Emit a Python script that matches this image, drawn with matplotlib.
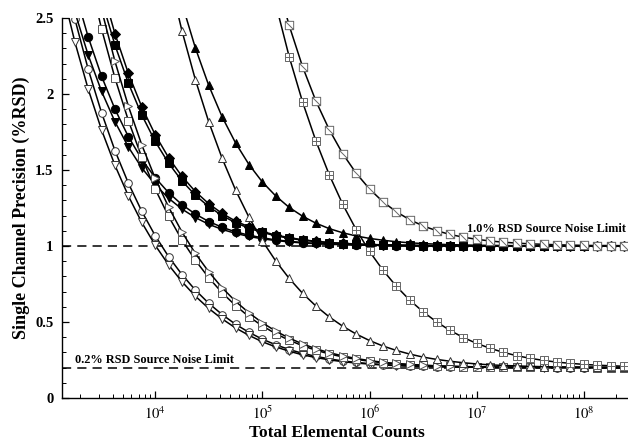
import matplotlib
matplotlib.use("Agg")
import matplotlib.pyplot as plt
from matplotlib.path import Path
from matplotlib.ticker import MultipleLocator, LogLocator, NullFormatter

# ---------------- data ----------------
COUNTS = [1.334e3, 1.778e3, 2.371e3, 3.162e3, 4.217e3, 5.623e3, 7.499e3,
          1.0e4, 1.334e4, 1.778e4, 2.371e4, 3.162e4, 4.217e4, 5.623e4, 7.499e4,
          1.0e5, 1.334e5, 1.778e5, 2.371e5, 3.162e5, 4.217e5, 5.623e5, 7.499e5,
          1.0e6, 1.334e6, 1.778e6, 2.371e6, 3.162e6, 4.217e6, 5.623e6, 7.499e6,
          1.0e7, 1.334e7, 1.778e7, 2.371e7, 3.162e7, 4.217e7, 5.623e7, 7.499e7,
          1.0e8, 1.334e8, 1.778e8, 2.371e8, 3.162e8]

open_circle = [2.879, 2.495, 2.163, 1.876, 1.627, 1.413, 1.228, 1.068, 0.930, 0.812,
               0.710, 0.623, 0.549, 0.485, 0.432, 0.387, 0.350, 0.319, 0.294, 0.274,
               0.257, 0.244, 0.234, 0.226, 0.220, 0.215, 0.211, 0.209, 0.206, 0.205,
               0.204, 0.203, 0.202, 0.202, 0.201, 0.201, 0.201, 0.200, 0.200, 0.200,
               0.200, 0.200, 0.200, 0.200]
open_tri_down = [2.704, 2.344, 2.032, 1.763, 1.530, 1.329, 1.155, 1.005, 0.876, 0.765,
                 0.670, 0.589, 0.520, 0.461, 0.412, 0.370, 0.336, 0.308, 0.284, 0.266,
                 0.251, 0.239, 0.230, 0.223, 0.217, 0.213, 0.210, 0.208, 0.206, 0.204,
                 0.203, 0.202, 0.202, 0.201, 0.201, 0.201, 0.200, 0.200, 0.200, 0.200,
                 0.200, 0.200, 0.200, 0.200]
filled_circle = [3.041, 2.681, 2.375, 2.116, 1.900, 1.719, 1.571, 1.449, 1.351, 1.272,
                 1.210, 1.161, 1.123, 1.093, 1.071, 1.054, 1.040, 1.031, 1.023, 1.017,
                 1.013, 1.010, 1.007, 1.006, 1.004, 1.003, 1.002, 1.002, 1.001, 1.001,
                 1.001, 1.000, 1.000, 1.000, 1.000, 1.000, 1.000, 1.000, 1.000, 1.000,
                 1.000, 1.000, 1.000, 1.000]
filled_tri_down = [2.876, 2.541, 2.256, 2.017, 1.817, 1.651, 1.514, 1.404, 1.314, 1.243,
                   1.187, 1.143, 1.109, 1.083, 1.063, 1.047, 1.036, 1.027, 1.020, 1.015,
                   1.011, 1.009, 1.006, 1.005, 1.004, 1.003, 1.002, 1.002, 1.001, 1.001,
                   1.001, 1.000, 1.000, 1.000, 1.000, 1.000, 1.000, 1.000, 1.000, 1.000,
                   1.000, 1.000, 1.000, 1.000]
open_square = [3.232, 2.800, 2.427, 2.104, 1.825, 1.583, 1.375, 1.195, 1.039, 0.906,
               0.791, 0.692, 0.608, 0.535, 0.474, 0.423, 0.380, 0.344, 0.314, 0.290,
               0.270, 0.254, 0.242, 0.232, 0.225, 0.219, 0.214, 0.211, 0.208, 0.206,
               0.205, 0.203, 0.203, 0.202, 0.202, 0.201, 0.201, 0.201, 0.201, 0.200,
               0.200, 0.200, 0.200]
open_tri_right = [3.401, 2.947, 2.554, 2.214, 1.920, 1.665, 1.446, 1.256, 1.092, 0.951,
                  0.830, 0.725, 0.636, 0.560, 0.495, 0.440, 0.394, 0.356, 0.324, 0.298,
                  0.277, 0.260, 0.246, 0.235, 0.227, 0.221, 0.216, 0.212, 0.209, 0.207,
                  0.205, 0.204, 0.203, 0.202, 0.202, 0.201, 0.201, 0.201, 0.201, 0.200,
                  0.200, 0.200, 0.200]
filled_square = [3.377, 2.967, 2.617, 2.321, 2.071, 1.862, 1.688, 1.545, 1.428, 1.334,
                 1.259, 1.200, 1.153, 1.117, 1.089, 1.067, 1.051, 1.038, 1.029, 1.022,
                 1.016, 1.012, 1.009, 1.007, 1.005, 1.004, 1.003, 1.002, 1.002, 1.001,
                 1.001, 1.001, 1.001, 1.000, 1.000, 1.000, 1.000, 1.000, 1.000, 1.000,
                 1.000, 1.000, 1.000]
filled_diamond = [3.500, 3.072, 2.706, 2.396, 2.135, 1.915, 1.732, 1.581, 1.458, 1.358,
                  1.278, 1.214, 1.164, 1.126, 1.095, 1.072, 1.055, 1.041, 1.031, 1.023,
                  1.018, 1.013, 1.010, 1.008, 1.006, 1.004, 1.003, 1.002, 1.002, 1.001,
                  1.001, 1.001, 1.001, 1.000, 1.000, 1.000, 1.000, 1.000, 1.000, 1.000,
                  1.000, 1.000, 1.000]
open_tri_up = [2.786, 2.415, 2.094, 1.816, 1.576, 1.368, 1.189, 1.034, 0.901, 0.787,
               0.689, 0.605, 0.533, 0.472, 0.421, 0.378, 0.342, 0.313, 0.289, 0.269,
               0.254, 0.242, 0.232, 0.224, 0.218, 0.214, 0.211, 0.208, 0.206, 0.205,
               0.203, 0.203, 0.202, 0.201, 0.201, 0.201]
filled_tri_up = [2.941, 2.595, 2.303, 2.056, 1.849, 1.678, 1.536, 1.421, 1.329, 1.254,
                 1.196, 1.150, 1.114, 1.087, 1.066, 1.050, 1.038, 1.028, 1.021, 1.016,
                 1.012, 1.009, 1.007, 1.005, 1.004, 1.003, 1.002, 1.002, 1.001, 1.001,
                 1.001, 1.001, 1.000, 1.000, 1.000, 1.000]
square_plus = [2.591, 2.246, 1.948, 1.690, 1.467, 1.274, 1.108, 0.964, 0.841, 0.735,
               0.644, 0.567, 0.501, 0.445, 0.398, 0.359, 0.327, 0.300, 0.278, 0.261,
               0.247, 0.236, 0.228, 0.221, 0.216, 0.212, 0.209, 0.207]
square_slash = [2.770, 2.451, 2.180, 1.953, 1.764, 1.607, 1.479, 1.375, 1.291, 1.225,
                1.173, 1.132, 1.101, 1.076, 1.058, 1.044, 1.033, 1.025, 1.019, 1.014,
                1.011, 1.008, 1.006, 1.004, 1.003, 1.003, 1.002, 1.001]

NOISE_LIMITS = [1.0, 0.2]
NOISE_LABELS = ["1.0% RSD Source Noise Limit", "0.2% RSD Source Noise Limit"]
X_TICKS = [1e4, 1e5, 1e6, 1e7, 1e8]
X_TICK_LABELS = [r"$10^{4}$", r"$10^{5}$", r"$10^{6}$", r"$10^{7}$", r"$10^{8}$"]

# ---------------- styling ----------------
plt.rcParams["font.family"] = ["Liberation Serif", "DejaVu Serif"]
plt.rcParams["mathtext.fontset"] = "stix"

sq_plus = Path([(-1, -1), (1, -1), (1, 1), (-1, 1), (-1, -1),
                (0, -1), (0, 1), (-1, 0), (1, 0)],
               [Path.MOVETO, Path.LINETO, Path.LINETO, Path.LINETO, Path.CLOSEPOLY,
                Path.MOVETO, Path.LINETO, Path.MOVETO, Path.LINETO])
sq_slash = Path([(-1, -1), (1, -1), (1, 1), (-1, 1), (-1, -1),
                 (-1, 1), (1, -1)],
                [Path.MOVETO, Path.LINETO, Path.LINETO, Path.LINETO, Path.CLOSEPOLY,
                 Path.MOVETO, Path.LINETO])

series = [
    (open_circle, "o", "white", "#333333", 5.5),
    (open_tri_down, "v", "white", "#333333", 5.5),
    (filled_circle, "o", "black", "black", 6.0),
    (filled_tri_down, "v", "black", "black", 6.0),
    (open_square, "s", "white", "#555555", 5.5),
    (open_tri_right, ">", "white", "#555555", 5.5),
    (filled_square, "s", "black", "black", 5.8),
    (filled_diamond, "D", "black", "black", 4.8),
    (open_tri_up, "^", "white", "#333333", 6.0),
    (filled_tri_up, "^", "black", "black", 5.5),
    (square_plus, sq_plus, "white", "#666666", 6.0),
    (square_slash, sq_slash, "white", "#666666", 6.0),
]

fig = plt.figure(figsize=(6.28, 4.41), dpi=100)
ax = fig.add_axes([0.0987, 0.0975, 0.9013, 0.8617])

for lim in NOISE_LIMITS:
    ax.axhline(lim, color="black", lw=1.1, ls=(0, (6, 4)), zorder=1)

for y, mk, fc, ec, ms in series:
    x = COUNTS[-len(y):]
    ax.plot(x, y, color="black", lw=1.1, marker=mk, markersize=ms,
            markerfacecolor=fc, markeredgecolor=ec, markeredgewidth=0.7,
            zorder=2)

ax.text(2.45e8, 1.115, NOISE_LABELS[0], ha="right", va="center",
        fontsize=8.8, fontweight="bold", zorder=5)
ax.text(1.78e3, 0.25, NOISE_LABELS[1], ha="left", va="center",
        fontsize=8.8, fontweight="bold", zorder=5)

ax.set_xscale("log")
ax.set_xlim(1.35e3, 2.58e8)
ax.set_ylim(0, 2.5)

ax.set_xticks(X_TICKS)
ax.set_xticklabels(X_TICK_LABELS, fontsize=10.5)
ax.xaxis.set_minor_locator(LogLocator(base=10, subs=range(2, 10), numticks=20))
ax.xaxis.set_minor_formatter(NullFormatter())

ax.yaxis.set_minor_locator(MultipleLocator(0.1))
ax.set_yticks([0, 0.5, 1, 1.5, 2, 2.5])
ax.set_yticklabels(["0", "0.5", "1", "1.5", "2", "2.5"], fontsize=10.5,
                   fontweight="bold")

ax.tick_params(axis="both", which="major", direction="in", length=5, width=0.9,
               pad=6)
ax.tick_params(axis="both", which="minor", direction="in", length=3, width=0.7)
ax.tick_params(axis="x", which="major", pad=5)

for side in ("top", "right"):
    ax.spines[side].set_visible(False)
for side in ("left", "bottom"):
    ax.spines[side].set_linewidth(1.0)

ax.set_xlabel("Total Elemental Counts", fontsize=12.5, fontweight="bold",
              va="center")
ax.xaxis.set_label_coords(0.486, -0.093)
ax.set_ylabel("Single Channel Precision (%RSD)", fontsize=13, fontweight="bold",
              labelpad=4)

fig.savefig("out.png", dpi=100)
